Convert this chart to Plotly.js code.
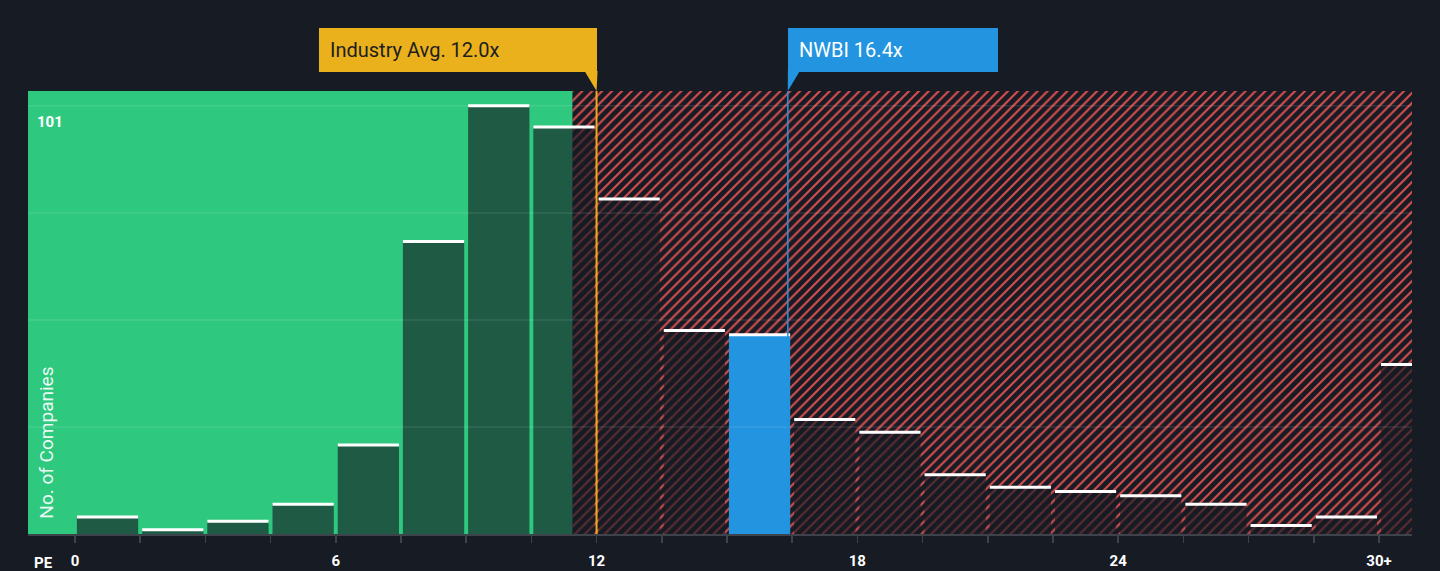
<!DOCTYPE html>
<html>
<head>
<meta charset="utf-8">
<script src="https://cdn.plot.ly/plotly-3.0.1.min.js"></script>
<style>
  html, body { margin: 0; padding: 0; background: #161b24; }
  #chart { width: 1440px; height: 571px; }
</style>
</head>
<body>
<div id="chart"></div>
<script>
// PE distribution of peers, bins are 1.5x wide, the last one is 30+
const binStarts = [0, 1.5, 3, 4.5, 6, 7.5, 9, 10.5, 12, 13.5, 15, 16.5, 18, 19.5, 21, 22.5, 24, 25.5, 27, 28.5, 30];
const counts = [4, 1, 3, 7, 21, 69, 101, 96, 79, 48, 47, 27, 24, 14, 11, 10, 9, 7, 2, 4, 40];
const labelVals = [0, 6, 12, 18, 24, 30];
const labelText = ["0", "6", "12", "18", "24", "30+"];

const industryAvg = 12.0;
const companyPE = 16.4;
const companyName = "NWBI";
const highlightBin = 10;

const binW = 1.5;
const xMin = -1.08, xMax = 30.76;
const yMax = 104.5;
const fairEdge = 11.45;
const maxCount = Math.max(...counts);

const centers = binStarts.map(b => b + binW / 2);
const barColors = counts.map((c, i) => i === highlightBin ? "#2394df" : "rgba(22,26,34,0.64)");

const hatch = {
    type: "bar",
    x: [(fairEdge + xMax) / 2],
    y: [yMax],
    width: [xMax - fairEdge],
    marker: {
        color: "#181b24",
        line: {width: 0},
        pattern: {shape: "/", size: 7, solidity: 0.3, fgcolor: "#d24e4f", bgcolor: "#181b24", fgopacity: 1}
    },
    hoverinfo: "skip",
    showlegend: false
};

const bars = {
    type: "bar",
    x: centers,
    y: counts,
    width: binW * 0.94,
    marker: {color: barColors, line: {width: 0}},
    hoverinfo: "skip",
    showlegend: false
};

// white caps on top of every bar (line-ew marker draws ~1.4x its size)
const caps = {
    type: "scatter",
    mode: "markers",
    x: centers,
    y: counts,
    marker: {symbol: "line-ew", size: 43.7, line: {width: 3, color: "#ffffff"}},
    hoverinfo: "skip",
    showlegend: false
};

const shapes = [
    {type: "rect", xref: "x", yref: "paper", x0: xMin, x1: fairEdge, y0: 0, y1: 1,
     fillcolor: "#2ec97f", line: {width: 0}, layer: "below"}
];

[1, 2, 3, 4].forEach(k => {
    shapes.push({type: "line", xref: "paper", yref: "y", x0: 0, x1: 1, y0: maxCount * k / 4, y1: maxCount * k / 4,
                 line: {color: "rgba(255,255,255,0.1)", width: 1.5}, layer: "above"});
});

shapes.push({type: "line", xref: "x", yref: "paper", x0: industryAvg, x1: industryAvg, y0: 0, y1: 1,
             line: {color: "#eeaa1c", width: 2}, layer: "above"});
shapes.push({type: "line", xref: "x", yref: "paper", x0: companyPE, x1: companyPE, y0: 0, y1: 1,
             line: {color: "#2394df", width: 1.5}, layer: "above"});

// little pointers under the two label boxes
shapes.push({type: "path", xref: "x", yref: "paper", xsizemode: "pixel", ysizemode: "pixel",
             xanchor: industryAvg, yanchor: 1, path: "M-12,20 L1,20 L0,0 Z",
             fillcolor: "#eab11c", line: {width: 0}, layer: "above"});
shapes.push({type: "path", xref: "x", yref: "paper", xsizemode: "pixel", ysizemode: "pixel",
             xanchor: companyPE, yanchor: 1, path: "M0,20 L12,20 L0,0 Z",
             fillcolor: "#2394df", line: {width: 0}, layer: "above"});

const annotations = [
    {text: "Industry Avg. " + industryAvg.toFixed(1) + "x", xref: "x", yref: "paper",
     x: industryAvg, y: 1, xanchor: "right", yanchor: "bottom", yshift: 19,
     showarrow: false, align: "left", width: 256, height: 22, borderpad: 11, borderwidth: 0,
     bgcolor: "#eab11c", font: {family: "Roboto, sans-serif", size: 20, color: "#1e1e1e"}},
    {text: companyName + " " + companyPE.toFixed(1) + "x", xref: "x", yref: "paper",
     x: companyPE, y: 1, xanchor: "left", yanchor: "bottom", yshift: 19,
     showarrow: false, align: "left", width: 188, height: 22, borderpad: 11, borderwidth: 0,
     bgcolor: "#2394df", font: {family: "Roboto, sans-serif", size: 20, color: "#ffffff"}},
    {text: String(maxCount), xref: "paper", yref: "y", x: 0.005, y: maxCount,
     xanchor: "left", yanchor: "top", yshift: -5, showarrow: false,
     font: {family: "Roboto, sans-serif", size: 15, weight: 700, color: "#ffffff"}},
    {text: "No. of Companies", xref: "paper", yref: "paper", x: 0.0137, y: 0.03,
     xanchor: "center", yanchor: "bottom", textangle: -90, showarrow: false,
     font: {family: "Roboto, sans-serif", size: 19, color: "rgba(255,255,255,0.92)"}},
    {text: "PE", xref: "paper", yref: "paper", x: 0.003, y: -0.0655,
     xanchor: "left", yanchor: "middle", showarrow: false,
     font: {family: "Roboto, sans-serif", size: 15, weight: 700, color: "#ffffff"}}
];

const tickText = binStarts.map(b => {
    const i = labelVals.indexOf(b);
    return i >= 0 ? labelText[i] : "";
});

const layout = {
    width: 1440,
    height: 571,
    margin: {l: 28, r: 28, t: 91, b: 37},
    paper_bgcolor: "#161b24",
    plot_bgcolor: "rgba(0,0,0,0)",
    barmode: "overlay",
    xaxis: {
        range: [xMin, xMax],
        tickmode: "array",
        tickvals: binStarts,
        ticktext: tickText,
        ticks: "outside",
        ticklen: 7,
        tickwidth: 1.5,
        tickcolor: "#3d424b",
        showline: true,
        linecolor: "#3d424b",
        linewidth: 2,
        showgrid: false,
        zeroline: false,
        ticklabelstandoff: 5,
        tickfont: {family: "Roboto, sans-serif", size: 15, weight: 700, color: "#ffffff"},
        fixedrange: true
    },
    yaxis: {
        range: [0, yMax],
        showgrid: false,
        zeroline: false,
        showticklabels: false,
        showline: false,
        fixedrange: true
    },
    shapes: shapes,
    annotations: annotations,
    showlegend: false
};

Plotly.newPlot("chart", [hatch, bars, caps], layout, {displayModeBar: false, staticPlot: true});
</script>
</body>
</html>
